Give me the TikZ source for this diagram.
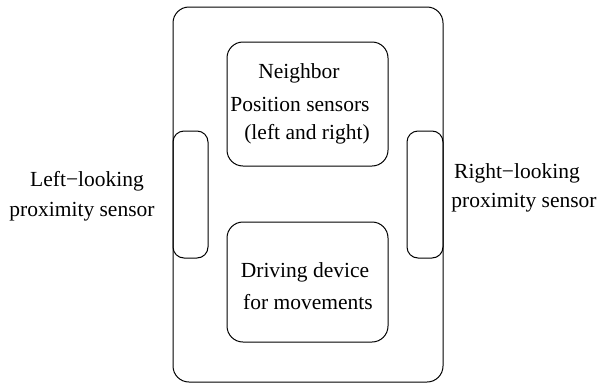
\documentclass[tikz,border=0pt]{standalone}
\usepackage{fontspec}
\setmainfont{Liberation Serif}
\begin{document}
\begin{tikzpicture}[x=1pt,y=-1pt,
  box/.style={draw=black,line width=1pt,rounded corners=16pt},
  sens/.style={draw=black,line width=1pt,rounded corners=11pt},
  lbl/.style={font=\fontsize{21.5}{30}\selectfont,align=center,inner sep=0pt}]
\useasboundingbox (0,0) rectangle (597,386);
\draw[box] (173,7) rectangle (443,382);
\draw[box] (227,42) rectangle (388,166);
\draw[box] (227,222) rectangle (388,342);
\draw[sens] (173,131) rectangle (208,258);
\draw[sens] (407,131) rectangle (443,258);
\node[lbl] (n1) at (299,73) {Neighbor};
\node[lbl] (n2) at (300,104) {Position sensors};
\node[lbl] (n3) at (307,134) {(left and right)};
\node[lbl] (d1) at (305,272) {Driving device};
\node[lbl] (d2) at (308,302) {for movements};
\node[lbl] (l1) at (87,181) {Left−looking};
\node[lbl] (l2) at (82,212) {proximity sensor};
\node[lbl] (r1) at (517,173) {Right−looking};
\node[lbl] (r2) at (524,203) {proximity sensor};
\end{tikzpicture}
\end{document}
